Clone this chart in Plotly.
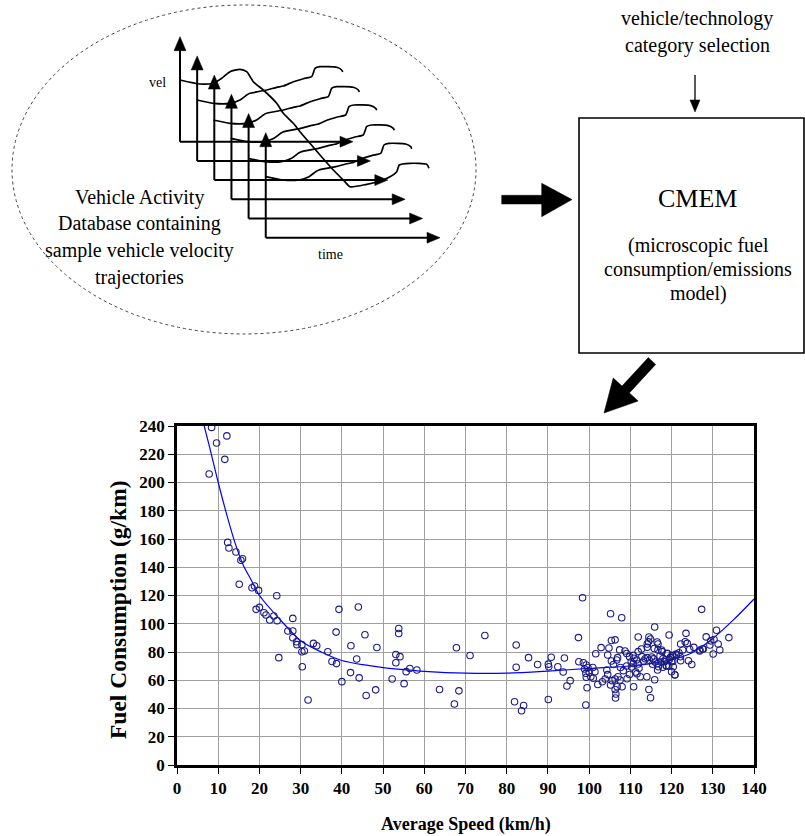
import plotly.graph_objects as go

W, H = 805, 836
SERIF = "Liberation Serif, Times New Roman, serif"

# ---------------- chart data ----------------
speed_kmh = [
    7.8, 8.4, 9.6, 11.6, 12.1, 12.3, 12.6, 14.3, 15.5, 15.9, 15.1, 18.2, 18.8, 19.8, 24.2,
    19.2, 20.0, 21.1, 21.6, 22.5, 23.5, 24.3, 24.7, 26.9, 28.1, 28.1, 28.1, 29.0, 29.1, 30.3,
    30.3, 30.9, 30.4, 31.8, 33.1, 33.9, 36.6, 37.6, 38.6, 38.7, 39.3, 40.0, 42.2, 42.1, 43.6,
    44.0, 44.2, 45.6, 45.9, 48.2, 48.5, 52.2, 53.1, 53.1, 53.8, 53.8, 54.1, 55.1, 55.6, 56.5,
    58.2, 63.7, 67.3, 67.8, 68.4, 71.1, 74.7,
    82.3, 82.3, 81.9, 84.1, 83.6, 85.3, 87.5, 90.1, 90.2, 90.8, 94.0, 92.4, 93.7, 90.1, 95.4,
    94.6, 97.4, 97.5,
    98.4, 105.2, 107.9, 115.9, 119.4, 111.9, 105.4, 106.3, 102.9, 104.8, 101.6, 107.4, 108.7,
    114.5, 114.9, 114.4, 114.1, 116.5, 116.7,
    111.9, 112.7, 114.1, 115.8, 116.7, 117.7, 119.0, 120.1, 121.1, 122.1,
    98.6, 99.3, 98.9, 99.2, 99.3, 99.5, 99.2, 99.7, 100.0, 100.4, 100.9, 101.4, 101.0,
    102.1, 103.2, 103.9, 104.3, 104.5, 105.4, 105.9, 106.7, 106.9, 107.6, 108.3, 109.1,
    105.6, 105.2, 106.3, 106.8, 106.5, 106.4, 106.3, 108.0, 107.0, 107.5,
    109.2, 109.8, 110.3, 110.7, 110.9, 111.5, 111.9, 112.1, 111.3, 111.6, 110.8, 112.4,
    112.8, 113.2, 113.6, 114.1, 114.6, 115.2, 115.6, 115.4, 116.0, 116.5, 116.8, 117.4,
    117.9, 118.3, 118.7, 119.5, 120.3,
    114.0, 115.9, 114.5, 114.9, 116.6, 117.9, 119.3, 120.8, 109.8, 110.7, 110.2, 104.5, 109.1,
    127.3, 130.9, 133.9, 128.4, 129.5, 130.3, 131.3, 129.3, 131.7, 130.1, 127.5, 126.8,
    123.5, 123.3, 123.8, 122.2, 122.7, 121.8, 121.2, 120.3, 119.7, 118.9, 118.6, 117.6,
    117.2, 120.0, 118.8, 120.4, 120.0, 120.8, 122.2, 124.1, 124.9, 125.4, 124.4, 126.9, 127.7,
]
fuel_gkm = [
    206, 239, 228, 216.4, 233, 157.6, 153.6, 150.8, 145, 146, 128, 125.5, 126.7, 123.6, 119.8,
    110.2, 111.6, 107.8, 106.2, 102.7, 105.5, 102.2, 76, 94.9, 103.8, 94.9, 90.1, 87.3, 85.2, 85.2,
    80.2, 80.7, 69.6, 46, 86.1, 84.4, 80.2, 73.3, 94.1, 71.8, 110.2, 59, 84.4, 65.4, 75,
    111.9, 61.7, 92.2, 49.2, 53.2, 83.2, 60.9, 78.2, 72.4, 96.6, 93.1, 76.7, 57.6, 66.1, 68.3,
    67.3, 53.5, 43.2, 83, 52.5, 77.5, 91.7,
    85, 69.2, 44.8, 42.1, 38.4, 76, 71.1, 71.4, 69.6, 76.3, 75.8, 69.6, 65.8, 46.4, 59.7,
    55.9, 90.2, 73.1,
    118.4, 107.1, 104.3, 97.7, 92, 90.6, 88.1, 88.6, 83.1, 82.8, 78.8, 81.5, 80.7,
    90.6, 89.2, 87.3, 85.7, 87.1, 85.7,
    80.3, 82.1, 83.3, 82.5, 81.5, 80.3, 78.8, 77.6, 78.5, 76.6,
    72.4, 70.8, 68, 64.9, 62.1, 54.7, 42.5, 69, 65.6, 62.5, 69, 66, 61.4,
    57, 58.9, 60.9, 67.3, 64, 73.6, 71.2, 74.3, 76, 69, 66.8, 70.1,
    59.7, 56.6, 60.9, 55.4, 50.3, 47.4, 53.4, 55.4, 62.5, 60.2,
    61.1, 64.1, 69.4, 71.8, 75.6, 74.3, 71.5, 68.5, 65.8, 64.6, 55.4, 62.5,
    76.7, 73.6, 75.2, 76, 74.1, 76.5, 75.1, 71.3, 72.9, 71.7, 69.6, 72.9,
    75.2, 73.1, 70.3, 74.8, 73.4,
    62.5, 60.4, 53.5, 47.6, 67.3, 69.2, 70.1, 63.9, 76.7, 77.6, 73.1, 77.9, 78.9,
    110.2, 95.4, 90.2, 90.7, 87.9, 88.8, 85.7, 85, 81.4, 78.6, 82.1, 80.7,
    93.2, 87.3, 86.1, 85.7, 81.4, 79.5, 77.9, 77.2, 76.2, 79.1, 74.3, 81.4,
    77.2, 73.1, 70.1, 69.6, 66.1, 63.7, 73.8, 73.8, 71.2, 83.3, 81.9, 81.4, 82.1,
]

# fitted model curve
curve_speed = [6.6, 8, 10, 12, 14, 16, 18, 20, 25, 30, 35, 40, 45, 50, 55, 60, 70, 80,
               90, 100, 110, 115, 120, 125, 130, 135, 140]
curve_fuel = [240, 224, 200, 178, 158, 142, 131, 120, 103, 88, 80, 74, 71, 69, 67.5, 66.3,
              65, 65, 66.5, 68.4, 70.1, 71.8, 74.5, 79.5, 89.5, 102.7, 117.5]

x_ticks = list(range(0, 141, 10))
y_ticks = list(range(0, 241, 20))

# ---------------- figure ----------------
fig = go.Figure()

fig.add_trace(go.Scatter(
    x=curve_speed, y=curve_fuel, mode="lines",
    line=dict(color="#0000ff", width=1.2, shape="spline", smoothing=0.8),
    showlegend=False, hoverinfo="skip", cliponaxis=True))

fig.add_trace(go.Scatter(
    x=speed_kmh, y=fuel_gkm, mode="markers",
    marker=dict(symbol="circle-open", size=6.5, color="#1c1c86", line=dict(width=1.1)),
    showlegend=False))

# plot area pixel bounds
PL, PR, PT, PB = 177, 754, 426, 765

# ---------------- diagram (pixel coordinates on an overlay axis) ----------------
shapes = []


def line(x0, y0, x1, y1, w=2.0, color="black"):
    shapes.append(dict(type="line", xref="x2", yref="y2", x0=x0, y0=y0, x1=x1, y1=y1,
                       line=dict(color=color, width=w), layer="above"))


def poly(pts):
    d = "M " + " L ".join(f"{x:.2f},{y:.2f}" for x, y in pts) + " Z"
    shapes.append(dict(type="path", xref="x2", yref="y2", path=d,
                       fillcolor="black", line=dict(color="black", width=0.5), layer="above"))


# dotted ellipse
shapes.append(dict(type="circle", xref="x2", yref="y2", x0=12, y0=5, x1=476, y1=334,
                   line=dict(color="#444444", width=1, dash="dot")))

# six offset velocity/time axes
for k in range(6):
    xv = 180 + 17.15 * k
    ytip = 36.7 + 19.2 * k
    yh = 141.7 + 19.2 * k
    xtip = 353 + 17.4 * k
    line(xv, yh, xv, ytip + 12)
    poly([(xv, ytip), (xv - 6, ytip + 14), (xv + 6, ytip + 14)])
    line(xv, yh, xtip - 11, yh)
    poly([(xtip, yh), (xtip - 13, yh - 5.5), (xtip - 13, yh + 5.5)])

# small arrow into the CMEM box
line(695, 75, 695, 101, w=1.3)
poly([(695, 112), (690, 100), (700, 100)])

# CMEM box
shapes.append(dict(type="rect", xref="x2", yref="y2", x0=579, y0=118, x1=804, y1=353,
                   line=dict(color="black", width=1.6), fillcolor="rgba(0,0,0,0)"))

# big right arrow
poly([(501.7, 195.3), (541.7, 195.3), (541.7, 183.3), (572, 199.6), (541.7, 216.7),
      (541.7, 204), (501.7, 204)])

# big diagonal arrow (down-left)
tx, ty = 604.0, 413.0
sx, sy = 652.0, 361.0
dx, dy = tx - sx, ty - sy
L = (dx * dx + dy * dy) ** 0.5
ux, uy = dx / L, dy / L
nx, ny = -uy, ux
bx, by = tx - 32 * ux, ty - 32 * uy
poly([(sx + 5 * nx, sy + 5 * ny), (bx + 5 * nx, by + 5 * ny), (bx + 17 * nx, by + 17 * ny),
      (tx, ty), (bx - 17 * nx, by - 17 * ny), (bx - 5 * nx, by - 5 * ny),
      (sx - 5 * nx, sy - 5 * ny)])

# velocity trajectories
base_dx = [0, 16.7, 33.3, 43.3, 50, 53.3, 70, 80, 86.7, 96.7, 106.7, 115, 116.7, 118.3,
           123.3, 140, 145, 146]
base_dy = [0, 3.3, 3.3, 0, -5, -6.7, -10, -12.7, -14, -18.3, -21.3, -23.3, -27.3, -31.7,
           -33.3, -32.7, -30, -28]
starts = [(196.7, 100), (213.3, 120), (230.7, 138.3), (248.3, 158.3), (265.7, 176.7)]
for sx0, sy0 in starts:
    fig.add_trace(go.Scatter(
        x=[sx0 + d for d in base_dx], y=[sy0 + d for d in base_dy], xaxis="x2", yaxis="y2",
        mode="lines", line=dict(color="black", width=1.7, shape="spline", smoothing=0.6),
        showlegend=False, hoverinfo="skip"))

traj1_x = [180, 200, 213, 221.7, 230, 240, 246.7, 253.3, 263.3, 276.7, 283.3, 293.3, 300, 310,
           320, 333.3, 343.3, 350, 366.7, 380, 390, 396.7, 399.3, 410, 426.7, 429]
traj1_y = [80, 84, 83.3, 78.3, 71.7, 69.3, 71.7, 81.7, 90, 103.3, 113.3, 123.3, 131.7, 143.3,
           155, 170, 180, 186.7, 184.3, 181, 176.7, 171.7, 165, 163.3, 164.3, 168.3]
fig.add_trace(go.Scatter(
    x=traj1_x, y=traj1_y, xaxis="x2", yaxis="y2", mode="lines",
    line=dict(color="black", width=1.7, shape="spline", smoothing=0.6),
    showlegend=False, hoverinfo="skip"))

# ---------------- texts ----------------
ann = []


def text(x, y, s, size=20, **kw):
    ann.append(dict(x=x, y=y, xref="x2", yref="y2", text=s, showarrow=False,
                    xanchor="center", yanchor="middle",
                    font=dict(family=SERIF, size=size, color="black"), **kw))


text(139, 197, "Vehicle Activity")
text(139, 223, "Database containing")
text(139, 250, "sample vehicle velocity")
text(139, 277, "trajectories")
text(157, 82, "vel", size=14)
text(330, 254, "time", size=14)
text(697, 18, "vehicle/technology")
text(697, 45, "category selection")
text(697, 198, "CMEM", size=26)
text(698, 245, "(microscopic fuel")
text(698, 269, "consumption/emissions")
text(698, 293, "model)")

# axis titles
text((PL + PR) / 2, 824, "<b>Average Speed (km/h)</b>", size=18)
text(118, 610, "<b>Fuel Consumption (g/km)</b>", size=23.5, textangle=-90)

tickfont = dict(family=SERIF, size=17, color="black", weight="bold")
common = dict(showline=True, linecolor="black", linewidth=2.5, mirror=True,
              showgrid=True, gridcolor="#a0a0a0", gridwidth=1.3, zeroline=False,
              ticks="outside", ticklen=6, tickwidth=1.3, tickcolor="black",
              tickfont=tickfont, fixedrange=True, automargin=False)

fig.update_layout(
    width=W, height=H,
    margin=dict(l=0, r=0, t=0, b=0, pad=0, autoexpand=False),
    paper_bgcolor="white", plot_bgcolor="rgba(0,0,0,0)",
    showlegend=False,
    xaxis=dict(domain=[PL / W, PR / W], range=[0, 140], tickvals=x_ticks, anchor="y", **common),
    yaxis=dict(domain=[(H - PB) / H, (H - PT) / H], range=[0, 240], tickvals=y_ticks,
               anchor="x", **common),
    xaxis2=dict(domain=[0, 1], range=[0, W], visible=False, anchor="y2", fixedrange=True,
                automargin=False),
    yaxis2=dict(domain=[0, 1], range=[H, 0], visible=False, anchor="x2", fixedrange=True,
                automargin=False),
    shapes=shapes,
    annotations=ann,
)

fig.write_html("out.html", config={"displayModeBar": False})
